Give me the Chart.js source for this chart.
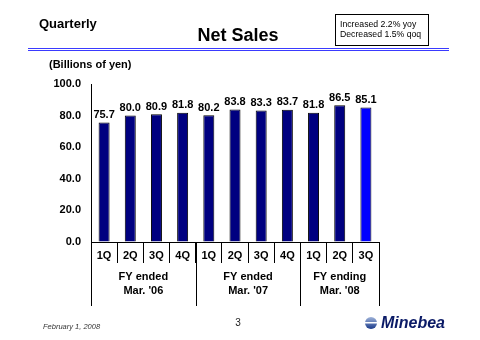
<!DOCTYPE html>
<html>
<head>
<meta charset="utf-8">
<script src="https://cdn.jsdelivr.net/npm/chart.js@4/dist/chart.umd.min.js"></script>
<style>
  html, body { margin: 0; padding: 0; background: #fff; }
  #wrap { position: relative; width: 480px; height: 340px; }
</style>
</head>
<body>
<div id="wrap"><canvas id="sales-chart" width="480" height="340"></canvas></div>
<script>
const quarters = ["1Q", "2Q", "3Q", "4Q", "1Q", "2Q", "3Q", "4Q", "1Q", "2Q", "3Q"];
const netSales = [75.7, 80.0, 80.9, 81.8, 80.2, 83.8, 83.3, 83.7, 81.8, 86.5, 85.1];
const fiscalYears = [["FY ended", "Mar. '06"], ["FY ended", "Mar. '07"], ["FY ending", "Mar. '08"]];
const quartersPerYear = [4, 4, 3];
const yTicks = [0, 20, 40, 60, 80, 100];

const FONT = "'Liberation Sans', Arial, sans-serif";

const barColors = netSales.map((v, i) => i === netSales.length - 1 ? "#0000ff" : "#000080");

// titles, header box, footer
const pagePlugin = {
  id: "page",
  afterDraw(chart) {
    const ctx = chart.ctx;
    ctx.save();
    ctx.fillStyle = "#000";
    ctx.textBaseline = "middle";

    ctx.font = "bold 13px " + FONT;
    ctx.textAlign = "left";
    ctx.fillText("Quarterly", 39, 24);

    ctx.font = "bold 18px " + FONT;
    ctx.textAlign = "center";
    ctx.fillText("Net Sales", 238, 36);

    ctx.strokeStyle = "#3a3aff";
    ctx.lineWidth = 1;
    ctx.beginPath();
    ctx.moveTo(28, 48.5); ctx.lineTo(449, 48.5);
    ctx.moveTo(28, 50.5); ctx.lineTo(449, 50.5);
    ctx.stroke();

    ctx.strokeStyle = "#000";
    ctx.strokeRect(335.5, 14.5, 93, 31);
    ctx.font = "8.7px " + FONT;
    ctx.textAlign = "left";
    ctx.fillText("Increased 2.2% yoy", 340, 25);
    ctx.fillText("Decreased 1.5% qoq", 340, 35);

    ctx.font = "bold 11px " + FONT;
    ctx.fillText("(Billions of yen)", 49, 65);

    ctx.font = "italic 7.5px " + FONT;
    ctx.fillStyle = "#333";
    ctx.fillText("February 1, 2008", 43, 327);

    ctx.font = "10px " + FONT;
    ctx.textAlign = "center";
    ctx.fillStyle = "#222";
    ctx.fillText("3", 238, 323);

    // logo
    const g = ctx.createLinearGradient(0, 317, 0, 329);
    g.addColorStop(0, "#9fb3d9");
    g.addColorStop(1, "#1a3a8a");
    ctx.fillStyle = g;
    ctx.beginPath();
    ctx.arc(371, 323, 6, 0, Math.PI * 2);
    ctx.fill();
    ctx.fillStyle = "#fff";
    ctx.fillRect(365, 322, 12, 1.5);
    ctx.font = "italic bold 16px " + FONT;
    ctx.textAlign = "left";
    ctx.fillStyle = "#0a1a66";
    ctx.fillText("Minebea", 381, 324);
    ctx.restore();
  }
};

// value labels above the bars
const valueLabels = {
  id: "valueLabels",
  afterDatasetsDraw(chart) {
    const ctx = chart.ctx;
    const meta = chart.getDatasetMeta(0);
    ctx.save();
    ctx.font = "bold 11px " + FONT;
    ctx.fillStyle = "#000";
    ctx.textAlign = "center";
    ctx.textBaseline = "bottom";
    meta.data.forEach((bar, i) => {
      ctx.fillText(netSales[i].toFixed(1), bar.x, bar.y - 2);
    });
    ctx.restore();
  }
};

// fiscal year labels + long separators
const yearAxis = {
  id: "yearAxis",
  afterDraw(chart) {
    const ctx = chart.ctx;
    const x = chart.scales.x;
    const half = (x.getPixelForValue(1) - x.getPixelForValue(0)) / 2;
    const top = x.top;
    ctx.save();
    ctx.strokeStyle = "#000";
    ctx.lineWidth = 1;
    ctx.fillStyle = "#000";
    ctx.font = "bold 11px " + FONT;
    ctx.textAlign = "center";
    ctx.textBaseline = "middle";
    let start = 0;
    fiscalYears.forEach((lines, k) => {
      const end = start + quartersPerYear[k] - 1;
      const left = x.getPixelForValue(start) - half;
      const right = x.getPixelForValue(end) + half;
      ctx.beginPath();
      ctx.moveTo(Math.round(left) + 0.5, top);
      ctx.lineTo(Math.round(left) + 0.5, top + 64);
      if (k === fiscalYears.length - 1) {
        ctx.moveTo(Math.round(right) + 0.5, top);
        ctx.lineTo(Math.round(right) + 0.5, top + 64);
      }
      ctx.stroke();
      const cx = (left + right) / 2;
      ctx.fillText(lines[0], cx, top + 35);
      ctx.fillText(lines[1], cx, top + 49);
      start = end + 1;
    });
    ctx.restore();
  }
};

const config = {
  type: "bar",
  data: {
    labels: quarters,
    datasets: [{
      data: netSales,
      backgroundColor: barColors,
      borderColor: "#000",
      borderWidth: 1,
      barPercentage: 0.42,
      categoryPercentage: 1
    }]
  },
  options: {
    responsive: false,
    animation: false,
    layout: { padding: { left: 51, right: 101, top: 84, bottom: 77 } },
    plugins: {
      legend: { display: false },
      tooltip: { enabled: false }
    },
    scales: {
      x: {
        afterFit(scale) { scale.height = 21; },
        grid: { offset: true, drawOnChartArea: false, tickLength: 21, color: "#000" },
        border: { color: "#000", width: 1 },
        ticks: {
          color: "#000",
          font: { family: FONT, size: 11, weight: "bold" },
          padding: -14,
          maxRotation: 0,
          autoSkip: false
        }
      },
      y: {
        min: yTicks[0],
        max: yTicks[yTicks.length - 1],
        afterFit(scale) { scale.width = 40; },
        afterBuildTicks(scale) { scale.ticks = yTicks.map(v => ({ value: v })); },
        grid: { drawOnChartArea: false, drawTicks: false },
        border: { color: "#000", width: 1 },
        ticks: {
          color: "#000",
          padding: 10,
          font: { family: FONT, size: 11, weight: "bold" },
          callback: v => v.toFixed(1)
        }
      }
    }
  },
  plugins: [pagePlugin, valueLabels, yearAxis]
};

new Chart(document.getElementById("sales-chart"), config);
</script>
</body>
</html>
